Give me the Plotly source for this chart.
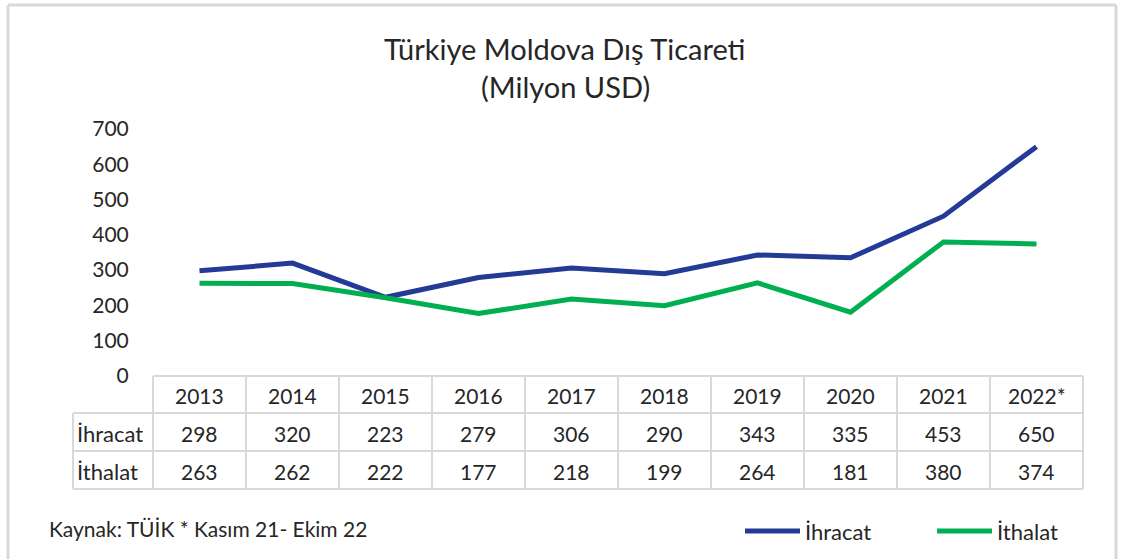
import plotly.graph_objects as go

years = ["2013", "2014", "2015", "2016", "2017", "2018", "2019", "2020", "2021", "2022*"]
ihracat = [298, 320, 223, 279, 306, 290, 343, 335, 453, 650]
ithalat = [263, 262, 222, 177, 218, 199, 264, 181, 380, 374]
series_names = ["İhracat", "İthalat"]
y_ticks = [0, 100, 200, 300, 400, 500, 600, 700]
title_text = "Türkiye Moldova Dış Ticareti"
subtitle_text = "(Milyon USD)"
source_text = "Kaynak: TÜİK * Kasım 21- Ekim 22"

W, H = 1133, 559
BLUE = "#233A96"
GREEN = "#00B050"
GRID = "#D9D9D9"
FONT = "Lato"
TXT = "#262626"

def px(x):
    return x / W

def py(y):
    return 1 - y / H

PL, PR, PT, PB = 153, 1083, 129, 376

fig = go.Figure()
fig.add_trace(go.Scatter(x=list(range(len(years))), y=ihracat, mode="lines", name=series_names[0],
                         line=dict(color=BLUE, width=5), showlegend=False))
fig.add_trace(go.Scatter(x=list(range(len(years))), y=ithalat, mode="lines", name=series_names[1],
                         line=dict(color=GREEN, width=5), showlegend=False))

shapes = []
ann = []

def line(x0, y0, x1, y1, color=GRID, width=2):
    shapes.append(dict(type="line", xref="paper", yref="paper", x0=px(x0), y0=py(y0), x1=px(x1), y1=py(y1),
                       line=dict(color=color, width=width)))

# outer border
line(8, 5, 1116, 5, width=3)
line(8, 5, 8, 560, width=3)
line(1116, 5, 1116, 560, width=3)

# table
n = len(years)
cw = (PR - PL) / n
rows_y = [376, 413, 451, 489]
line(PL, rows_y[0], PR, rows_y[0])
for yy in rows_y[1:]:
    line(73, yy, PR, yy)
line(73, rows_y[1], 73, rows_y[3])
for i in range(n + 1):
    xx = PL + i * cw
    line(xx, rows_y[0], xx, rows_y[3])

def text(x, y, s, size=21, xanchor="center"):
    ann.append(dict(xref="paper", yref="paper", x=px(x), y=py(y), text=s, showarrow=False,
                    xanchor=xanchor, yanchor="middle", font=dict(family=FONT, size=size, color=TXT)))

for i, yr in enumerate(years):
    cx = PL + (i + 0.5) * cw
    text(cx, (rows_y[0] + rows_y[1]) / 2 + 1, yr)
    text(cx, (rows_y[1] + rows_y[2]) / 2 + 1, str(ihracat[i]))
    text(cx, (rows_y[2] + rows_y[3]) / 2 + 1, str(ithalat[i]))
text(75, (rows_y[1] + rows_y[2]) / 2 + 1, series_names[0], size=22, xanchor="left")
text(75, (rows_y[2] + rows_y[3]) / 2 + 1, series_names[1], size=22, xanchor="left")

# title
text(564, 48, title_text, size=29)
text(565, 86, subtitle_text, size=29)

# source
text(47, 528, source_text, size=21, xanchor="left")

# legend
line(745, 531, 800, 531, color=BLUE, width=5)
text(803, 531, series_names[0], size=22, xanchor="left")
line(937, 531, 992, 531, color=GREEN, width=5)
text(995, 531, series_names[1], size=22, xanchor="left")

fig.update_layout(
    width=W, height=H, autosize=False,
    margin=dict(l=0, r=0, t=0, b=0, pad=0, autoexpand=False),
    paper_bgcolor="white", plot_bgcolor="white",
    shapes=shapes, annotations=ann, showlegend=False,
    xaxis=dict(domain=[px(PL), px(PR)], range=[-0.5, n - 0.5], showticklabels=False, automargin=False,
               showgrid=False, zeroline=False, showline=False, ticks=""),
    yaxis=dict(domain=[py(PB), py(PT)], range=[0, 700], tickvals=y_ticks, automargin=False,
               showgrid=False, zeroline=False, showline=False, ticks="outside", ticklen=19,
               tickcolor="rgba(0,0,0,0)",
               tickfont=dict(family=FONT, size=21, color=TXT)),
    font=dict(family=FONT),
)

fig.write_html("out.html", config={"displayModeBar": False, "responsive": False},
               post_script="document.body.style.margin='0';document.body.style.overflow='hidden';")
